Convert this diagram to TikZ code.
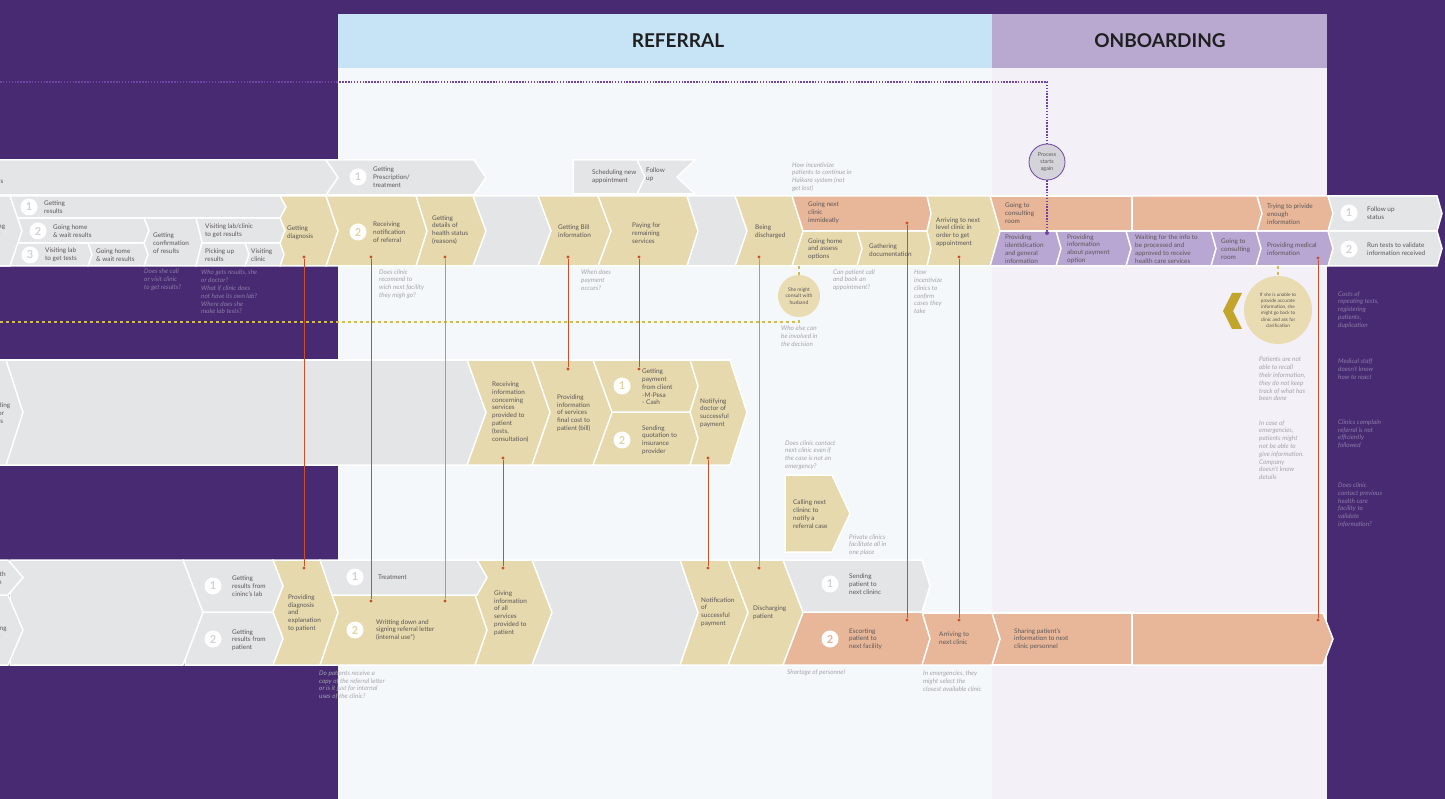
\documentclass[tikz,border=0pt]{standalone}
\usepackage{fontspec}
\setmainfont{Lato}
\usepackage{tikz}
\usepackage{xcolor}
\usetikzlibrary{
    calc,
    positioning
}
\definecolor{bgpurple}{HTML}{472A72}
\definecolor{refhead}{HTML}{C6E4F5}
\definecolor{refbody}{HTML}{F4F8FB}
\definecolor{onbhead}{HTML}{B9A9D1}
\definecolor{onbbody}{HTML}{F3F1F7}
\definecolor{chgray}{HTML}{E4E5E7}
\definecolor{chyellow}{HTML}{E6D9AD}
\definecolor{chorange}{HTML}{E8B79A}
\definecolor{chlilac}{HTML}{B8A7D2}
\definecolor{linkred}{HTML}{C9502B}
\definecolor{linksalmon}{HTML}{E2856A}
\definecolor{txtdark}{HTML}{5B5656}
\definecolor{qgray}{HTML}{A4A4AC}
\definecolor{qpurple}{HTML}{8D7CA8}
\definecolor{dotpurple}{HTML}{6E45A5}
\definecolor{dotyellow}{HTML}{D2BC4E}
\definecolor{olive}{HTML}{C3A52C}
\definecolor{circyellow}{HTML}{EADCB2}
\definecolor{circgray}{HTML}{D4D3D9}
\definecolor{numgray}{HTML}{D2D2D6}
\definecolor{numyellow}{HTML}{E2D4A4}
\definecolor{numorange}{HTML}{E6B294}
\newcommand{\chevshape}[6]{%
    \pgfmathsetmacro{\chevmid}{(#4+#5)/2}%
    \filldraw[chevbox, fill=#1] (#2,#4) -- (#3,#4) -- (#3+#6,\chevmid) -- (#3,#5) -- (#2,#5) -- cycle;}
\tikzset{
    chevbox/.style={draw=white, line width=1.5pt, line join=miter},
    head/.style={font=\fontsize{19}{19}\selectfont\bfseries, text=black!88},
    lbl/.style={anchor=west, inner sep=0pt, align=left, text=txtdark, font=\fontsize{6.4}{7.8}\selectfont},
    qst/.style={lbl, text=qgray, font=\fontsize{6.4}{7.8}\selectfont\itshape},
    qpur/.style={qst, text=qpurple},
    num/.style={circle, fill=white, minimum size=17pt, inner sep=0pt, text=#1, font=\fontsize{11}{11}\selectfont\bfseries},
    num/.default=numgray,
    rdot/.style={circle, fill=linkred, inner sep=0pt, minimum size=3.2pt},
    link/.style={draw=linkred, line width=0.9pt},
    linklight/.style={draw=linksalmon, line width=0.9pt},
    purpdots/.style={draw=dotpurple, line width=1.5pt, dash pattern=on 1.5pt off 1.4pt},
    yeldots/.style={draw=dotyellow, line width=1.3pt, dash pattern=on 3pt off 3pt},
    bubble/.style={circle, fill=circyellow, inner sep=0pt, align=center, text=txtdark},
    pdot/.style={circle, fill=dotpurple, inner sep=0pt, minimum size=4pt}
}
\begin{document}
\begin{tikzpicture}[x=1pt, y=-1pt]
    \path[use as bounding box] (0,0) rectangle (1445,799);
    \clip (0,0) rectangle (1445,799);
    \fill[bgpurple] (0,0) rectangle (1445,799);
    \fill[refbody] (338,68) rectangle (992,799);
    \fill[onbbody] (992,68) rectangle (1327,799);
    \fill[refhead] (338,14) rectangle (992,68);
    \fill[onbhead] (992,14) rectangle (1327,68);
    \node[head] (hRef) at (678,41) {REFERRAL};
    \node[head] (hOnb) at (1160,41) {ONBOARDING};

    \filldraw[chevbox, fill=chgray] (638,160) -- (695,160) -- (677,177) -- (695,194) -- (638,194) -- cycle;
    \chevshape{chgray}{573}{637}{160}{194}{8}
    \chevshape{chgray}{326}{474}{160}{195}{12}
    \chevshape{chgray}{-30}{326}{160}{195}{12}

    \chevshape{chgray}{1328}{1437}{231}{266}{5}
    \chevshape{chgray}{1328}{1437}{196}{231}{5}
    \chevshape{chlilac}{1256}{1328}{231}{266}{5}
    \chevshape{chorange}{1257}{1328}{196}{231}{5}
    \chevshape{chlilac}{1211}{1256}{231}{266}{5}
    \chevshape{chlilac}{1126}{1211}{231}{266}{5}
    \chevshape{chlilac}{1056}{1126}{231}{266}{5}
    \chevshape{chlilac}{990}{1056}{231}{266}{5}
    \chevshape{chorange}{1132}{1257}{196}{231}{5}
    \chevshape{chorange}{990}{1132}{196}{231}{0}
    \chevshape{chyellow}{927}{990}{196}{266}{10}
    \chevshape{chyellow}{857}{927}{231}{266}{4}
    \chevshape{chyellow}{792}{857}{231}{266}{5}
    \chevshape{chorange}{792}{927}{196}{231}{4}
    \chevshape{chyellow}{735}{792}{196}{266}{11}
    \chevshape{chgray}{687}{735}{196}{266}{12}
    \chevshape{chyellow}{598}{687}{196}{266}{11}
    \chevshape{chyellow}{538}{598}{196}{266}{13}
    \chevshape{chgray}{473}{538}{196}{266}{13}
    \chevshape{chyellow}{416}{473}{196}{266}{13}
    \chevshape{chyellow}{326}{416}{196}{266}{11}
    \chevshape{chyellow}{280}{326}{196}{266}{12}
    \chevshape{chgray}{245}{280}{243}{266}{4}
    \chevshape{chgray}{196}{245}{243}{266}{4}
    \chevshape{chgray}{196}{280}{218}{243}{5}
    \chevshape{chgray}{144}{196}{218}{266}{6}
    \chevshape{chgray}{88}{144}{243}{266}{4}
    \chevshape{chgray}{0}{88}{243}{266}{4}
    \chevshape{chgray}{0}{144}{218}{243}{5}
    \chevshape{chgray}{0}{280}{196}{218}{6}
    \chevshape{chgray}{-30}{10}{196}{266}{12}

    \chevshape{chyellow}{690}{730}{360}{465}{17}
    \chevshape{chyellow}{593}{690}{412}{465}{8}
    \chevshape{chyellow}{593}{690}{360}{412}{8}
    \chevshape{chyellow}{532}{593}{360}{465}{19}
    \chevshape{chyellow}{467}{532}{360}{465}{18}
    \chevshape{chgray}{6}{467}{360}{465}{19}
    \chevshape{chgray}{-30}{6}{360}{465}{17}

    \chevshape{chyellow}{785}{832}{475}{552}{18}

    \chevshape{chorange}{1132}{1323}{613}{665}{10}
    \chevshape{chorange}{992}{1132}{613}{665}{0}
    \chevshape{chorange}{922}{992}{613}{665}{8}
    \chevshape{chorange}{783}{922}{612}{665}{8}
    \chevshape{chgray}{783}{922}{560}{612}{8}
    \chevshape{chyellow}{728}{783}{560}{665}{20}
    \chevshape{chyellow}{680}{728}{560}{665}{20}
    \chevshape{chgray}{532}{680}{560}{665}{18}
    \chevshape{chyellow}{475}{532}{560}{665}{20}
    \chevshape{chyellow}{320}{475}{595}{665}{12}
    \chevshape{chgray}{320}{477}{560}{595}{10}
    \chevshape{chyellow}{273}{320}{560}{665}{18}
    \chevshape{chgray}{185}{273}{612}{665}{10}
    \chevshape{chgray}{183}{273}{560}{612}{10}
    \chevshape{chgray}{10}{183}{560}{665}{20}
    \chevshape{chgray}{-30}{8}{595}{665}{15}
    \chevshape{chgray}{-30}{8}{560}{595}{15}

    \fill[olive] (1223,311) -- (1232,293) -- (1242,293) -- (1233,311) -- (1242,329) -- (1232,329) -- cycle;

    \coordinate (loopStart) at (0,82);
    \node[circle, draw=dotpurple, line width=0.8pt, fill=circgray, minimum size=36pt, inner sep=0pt, align=center, text=txtdark, font=\fontsize{5.4}{7}\selectfont] (again) at (1047,162) {Process\\starts\\again};
    \node[pdot] (againEnd) at (1047,233) {};
    \draw[purpdots] (loopStart) -| (again);
    \draw[purpdots] (again) -- (againEnd);

    \node[bubble, minimum size=42pt, font=\fontsize{5}{6.2}\selectfont] (husband) at (799,296) {She might\\consult with\\husband};
    \coordinate (optBottom) at (799,266);
    \coordinate (yelStart) at (0,322);
    \draw[yeldots] (optBottom) -- (husband);
    \draw[yeldots] (yelStart) -| (husband);
    \node[bubble, minimum size=68pt, font=\fontsize{4.7}{6.2}\selectfont] (unable) at (1278,310) {If she is unable to\\provide accurate\\information, she\\might go back to\\clinic and ask for\\clarification};
    \coordinate (medBottom) at (1278,266);
    \draw[yeldots] (medBottom) -- (unable);

    \node[rdot] (diagA) at (304,257) {};
    \node[rdot] (diagB) at (304,568) {};
    \node[rdot] (recvA) at (371,257) {};
    \node[rdot] (recvB) at (371,601) {};
    \node[rdot] (detA) at (445,257) {};
    \node[rdot] (detB) at (445,601) {};
    \node[rdot] (billA) at (568,257) {};
    \node[rdot] (billB) at (568,369) {};
    \node[rdot] (payA) at (639,257) {};
    \node[rdot] (payB) at (639,369) {};
    \node[rdot] (infoA) at (503,458) {};
    \node[rdot] (infoB) at (503,568) {};
    \node[rdot] (notA) at (708,458) {};
    \node[rdot] (notB) at (708,568) {};
    \node[rdot] (disA) at (759,257) {};
    \node[rdot] (disB) at (759,568) {};
    \node[rdot] (escA) at (907,223) {};
    \node[rdot] (escB) at (907,620) {};
    \node[rdot] (arrA) at (959,257) {};
    \node[rdot] (arrB) at (959,620) {};
    \node[rdot] (medA) at (1318,258) {};
    \node[rdot] (medB) at (1318,620) {};
    \draw[link] (diagA) -- (diagB);
    \draw[link] (recvA) -- (recvB);
    \draw[linklight] (detA) -- (detB);
    \draw[link] (billA) -- (billB);
    \draw[link] (payA) -- (payB);
    \draw[link] (infoA) -- (infoB);
    \draw[link] (notA) -- (notB);
    \draw[linklight] (disA) -- (disB);
    \draw[link] (escA) -- (escB);
    \draw[link] (arrA) -- (arrB);
    \draw[link] (medA) -- (medB);

    \node[lbl] (aDiag) at (-1,181) {is};
    \node[num] (aN1) at (358,177) {1};
    \node[lbl] (aPresc) at (373,177) {Getting\\Prescription/\\treatment};
    \node[lbl] (aSched) at (592,177) {Scheduling new\\appointment};
    \node[lbl] (aFollow) at (646,175) {Follow\\up};

    \node[lbl] (bCut) at (-2,231) {ng\\t};
    \node[num] (bN1) at (29,207) {1};
    \node[lbl] (bRes) at (44,207) {Getting\\results};
    \node[num] (bN2) at (38,231) {2};
    \node[lbl] (bHome) at (53,231) {Going home\\\& wait results};
    \node[num] (bN3) at (30,255) {3};
    \node[lbl] (bLab) at (45,255) {Visiting lab\\to get tests};
    \node[lbl] (bHome2) at (96,255) {Going home\\\& wait results};
    \node[lbl] (bConf) at (153,243) {Getting\\confirmation\\of results};
    \node[lbl] (bVisit) at (205,231) {Visiting lab/clinic\\to get results};
    \node[lbl] (bPick) at (205,255) {Picking up\\results};
    \node[lbl] (bClinic) at (251,255) {Visiting\\clinic};
    \node[lbl] (bDiag) at (287,233) {Getting\\diagnosis};
    \node[num=numyellow] (bN4) at (358,232) {2};
    \node[lbl] (bRecv) at (373,232) {Receiving\\notification\\of referral};
    \node[lbl] (bDet) at (432,230) {Getting\\details of\\health status\\(reasons)};
    \node[lbl] (bBill) at (558,231) {Getting Bill\\information};
    \node[lbl] (bPay) at (632,233) {Paying for\\remaining\\services};
    \node[lbl] (bDis) at (755,232) {Being\\discharged};
    \node[lbl] (bNext) at (808,213) {Going next\\clinic\\immideatly};
    \node[lbl] (bAssess) at (808,249) {Going home\\and assess\\options};
    \node[lbl] (bDoc) at (869,250) {Gathering\\documentation};
    \node[lbl] (bArr) at (936,232) {Arriving to next\\level clinic in\\order to get\\appointment};
    \node[lbl] (bRoom) at (1005,213) {Going to\\consulting\\room};
    \node[lbl] (bIdent) at (1005,249) {Providing\\identidication\\and general\\information};
    \node[lbl] (bOpt) at (1067,249) {Providing\\information\\about payment\\option};
    \node[lbl] (bWait) at (1135,249) {Waiting for the info to\\be processed and\\approved to receive\\health care services};
    \node[lbl] (bRoom2) at (1221,249) {Going to\\consulting\\room};
    \node[lbl] (bTry) at (1267,214) {Trying to privide\\enough\\information};
    \node[lbl] (bMed) at (1267,249) {Providing medical\\information};
    \node[num] (bN5) at (1349,213) {1};
    \node[lbl] (bStatus) at (1367,213) {Follow up\\status};
    \node[num] (bN6) at (1349,249) {2};
    \node[lbl] (bTests) at (1367,249) {Run tests to validate\\information received};

    \node[qpur] (qCall) at (144,280) {Does she call\\or visit clinic\\to get results?};
    \node[qpur] (qWho) at (201,292) {Who gets results, she\\or doctor?\\What if clinic does\\not have its own lab?\\Where does she\\make lab tests?};
    \node[qst] (qRecom) at (379,284) {Does clinic\\recomend to\\wich next facility\\they migh go?};
    \node[qst] (qWhen) at (581,280) {When does\\payment\\occurs?};
    \node[qst] (qHaik) at (792,177) {How incentivize\\patients to continue in\\Haikara system (not\\get lost)};
    \node[qst] (qBook) at (833,280) {Can patient call\\and book an\\appointment?};
    \node[qst] (qConf) at (914,292) {How\\incentivize\\clinics to\\confirm\\cases they\\take};
    \node[qst] (qElse) at (781,336) {Who else can\\be involved in\\the decision};
    \node[qst] (qRecall) at (1259,379) {Patients are not\\able to recall\\their information,\\they do not keep\\track of what has\\been done};
    \node[qst] (qEmerg) at (1259,450) {In case of\\emergencies,\\patients might\\not be able to\\give information.\\Company\\doesn't know\\details};
    \node[qpur] (qCost) at (1338,310) {Costs of\\repeating tests,\\registering\\patients,\\duplication};
    \node[qpur] (qStaff) at (1338,369) {Medical staff\\doesn't know\\how to react};
    \node[qpur] (qCompl) at (1338,434) {Clinics complain\\referral is not\\efficiently\\followed};
    \node[qpur] (qPrev) at (1338,505) {Does clinic\\contact previous\\health care\\facility to\\validate\\information?};

    \node[lbl] (cCut) at (-2,413) {ding\\or\\ts};
    \node[lbl] (cRecv) at (492,412) {Receiving\\information\\concerning\\services\\provided to\\patient\\(tests,\\consultation)};
    \node[lbl] (cCost) at (557,413) {Providing\\information\\of services\\final cost to\\patient (bill)};
    \node[num=numyellow] (cN1) at (622,386) {1};
    \node[lbl] (cPay) at (642,387) {Getting\\payment\\from client\\-M-Pesa\\- Cash};
    \node[num=numyellow] (cN2) at (622,440) {2};
    \node[lbl] (cQuote) at (642,440) {Sending\\quotation to\\insurance\\provider};
    \node[lbl] (cNotify) at (700,413) {Notifying\\doctor of\\successful\\payment};

    \node[qst] (qContact) at (785,455) {Does clinic contact\\next clinic even if\\the case is not an\\emergency?};
    \node[lbl] (cCalling) at (793,514) {Calling next\\clininc to\\notify a\\referral case};
    \node[qst] (qPriv) at (849,545) {Private clinics\\facilitate all in\\one place};

    \node[lbl] (dCut1) at (-2,578) {ith\\n};
    \node[lbl] (dCut2) at (-2,632) {ing\\t};
    \node[num] (dN1) at (213,586) {1};
    \node[lbl] (dLab) at (232,586) {Getting\\results from\\cininc's lab};
    \node[num] (dN2) at (213,639) {2};
    \node[lbl] (dPat) at (232,640) {Getting\\results from\\patient};
    \node[lbl] (dExpl) at (288,613) {Providing\\diagnosis\\and\\explanation\\to patient};
    \node[num] (dN3) at (355,577) {1};
    \node[lbl] (dTreat) at (378,577) {Treatment};
    \node[num=numyellow] (dN4) at (355,630) {2};
    \node[lbl] (dLetter) at (376,630) {Writting down and\\signing referral letter\\(internal use*)};
    \node[lbl] (dGive) at (494,613) {Giving\\information\\of all\\services\\provided to\\patient};
    \node[lbl] (dNotif) at (701,612) {Notification\\of\\successful\\payment};
    \node[lbl] (dDis) at (753,613) {Discharging\\patient};
    \node[num] (dN5) at (830,584) {1};
    \node[lbl] (dSend) at (849,584) {Sending\\patient to\\next clininc};
    \node[num=numorange] (dN6) at (830,639) {2};
    \node[lbl] (dEsc) at (849,639) {Escorting\\patient to\\next facility};
    \node[lbl] (dArr) at (939,638) {Arriving to\\next clinic};
    \node[lbl] (dShare) at (1014,639) {Sharing patient's\\information to next\\clinic personnel};
    \node[qst] (qCopy) at (319,685) {Do patients receive a\\copy of the referral letter\\or is it just for internal\\uses of the clinic?};
    \node[qst] (qShort) at (787,673) {Shortage of personnel};
    \node[qst] (qSelect) at (923,681) {In emergencies, they\\might select the\\closest available clinic};
\end{tikzpicture}
\end{document}
